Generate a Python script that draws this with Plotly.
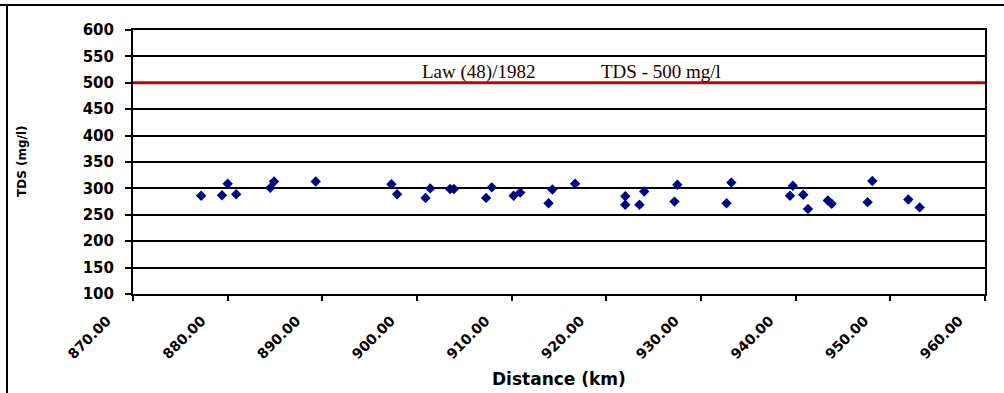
import plotly.graph_objects as go

distance_km = [877.2, 879.4, 880.0, 880.9, 884.5, 884.9, 889.3, 897.3, 897.9, 900.9,
               901.4, 903.5, 903.9, 907.3, 907.9, 910.2, 910.9, 913.9, 914.3, 916.7,
               922.0, 922.0, 923.5, 924.0, 927.2, 927.5, 932.7, 933.2, 939.4, 939.7,
               940.8, 941.3, 943.4, 943.8, 947.6, 948.1, 951.9, 953.1]
tds_mgl = [286, 287, 309, 289, 301, 313, 313, 308, 289, 282,
           300, 299, 299, 282, 302, 286, 292, 272, 298, 309,
           285, 269, 269, 294, 275, 307, 272, 311, 286, 305,
           288, 261, 277, 271, 274, 314, 279, 264]

limit_value = 500
limit_text_1 = "Law (48)/1982"
limit_text_2 = "TDS - 500 mg/l"
x_ticks = [870, 880, 890, 900, 910, 920, 930, 940, 950, 960]
x_tick_labels = ["870.00", "880.00", "890.00", "900.00", "910.00",
                 "920.00", "930.00", "940.00", "950.00", "960.00"]
y_ticks = [100, 150, 200, 250, 300, 350, 400, 450, 500, 550, 600]

W, H = 1004, 393
L, R, T, B = 133, 19, 30, 99
PW, PH = W - L - R, H - T - B

fig = go.Figure()
fig.add_trace(go.Scatter(
    x=[x_ticks[0], x_ticks[-1]], y=[limit_value, limit_value], mode="lines",
    line=dict(color="#C80000", width=3), hoverinfo="skip", showlegend=False))
fig.add_trace(go.Scatter(
    x=distance_km, y=tds_mgl, mode="markers",
    marker=dict(symbol="diamond", size=8, color="#000080"),
    showlegend=False))

serif = dict(family="Liberation Serif", size=19, color="#1a0000")
fig.add_annotation(x=900.3, y=limit_value, yshift=11, xanchor="left", yanchor="middle",
                   text=limit_text_1, showarrow=False, xref="x", yref="y", font=serif)
fig.add_annotation(x=919.2, y=limit_value, yshift=11, xanchor="left", yanchor="middle",
                   text=limit_text_2, showarrow=False, xref="x", yref="y", font=serif)

bold = dict(family="DejaVu Sans", color="black", weight="bold")
fig.add_annotation(x=(22 - L) / PW, y=(T + PH - 161) / PH,
                   xref="paper", yref="paper", text="TDS (mg/l)", textangle=-90,
                   showarrow=False, xanchor="center", yanchor="middle",
                   font=dict(size=12, **bold))
fig.add_annotation(x=0.5, y=-(379 - (T + PH)) / PH, xref="paper", yref="paper",
                   text="Distance (km)", showarrow=False, xanchor="center", yanchor="middle",
                   font=dict(size=17, **bold))

fig.update_layout(
    width=W, height=H,
    margin=dict(l=L, r=R, t=T, b=B, autoexpand=False),
    paper_bgcolor="white", plot_bgcolor="white",
    font=dict(family="DejaVu Sans", color="black"),
    shapes=[
        dict(type="line", xref="paper", yref="paper", x0=-L / PW, x1=1 + R / PW,
             y0=1 + 25 / PH, y1=1 + 25 / PH, line=dict(color="black", width=2)),
        dict(type="line", xref="paper", yref="paper", x0=-126 / PW, x1=-126 / PW,
             y0=1 + 25 / PH, y1=-B / PH, line=dict(color="black", width=2)),
    ],
)
fig.update_xaxes(
    range=[x_ticks[0], x_ticks[-1]], tickvals=x_ticks, ticktext=x_tick_labels,
    tickangle=-45, ticks="outside", ticklen=5, tickcolor="black", tickwidth=2,
    ticklabelshift=-26, ticklabelstandoff=6,
    showline=True, linecolor="black", linewidth=2, mirror=True,
    showgrid=False, zeroline=False, automargin=False,
    tickfont=dict(size=14, **bold))
fig.update_yaxes(
    range=[100, 600], tickvals=y_ticks, ticks="outside", ticklen=6,
    tickcolor="black", tickwidth=2, ticklabelstandoff=8,
    showline=True, linecolor="black", linewidth=2, mirror=True,
    showgrid=True, gridcolor="black", gridwidth=1.5, zeroline=False, automargin=False,
    tickfont=dict(size=15, **bold))

fig.write_html("out.html", config={"displayModeBar": False},
               post_script="document.body.style.margin='0';")
